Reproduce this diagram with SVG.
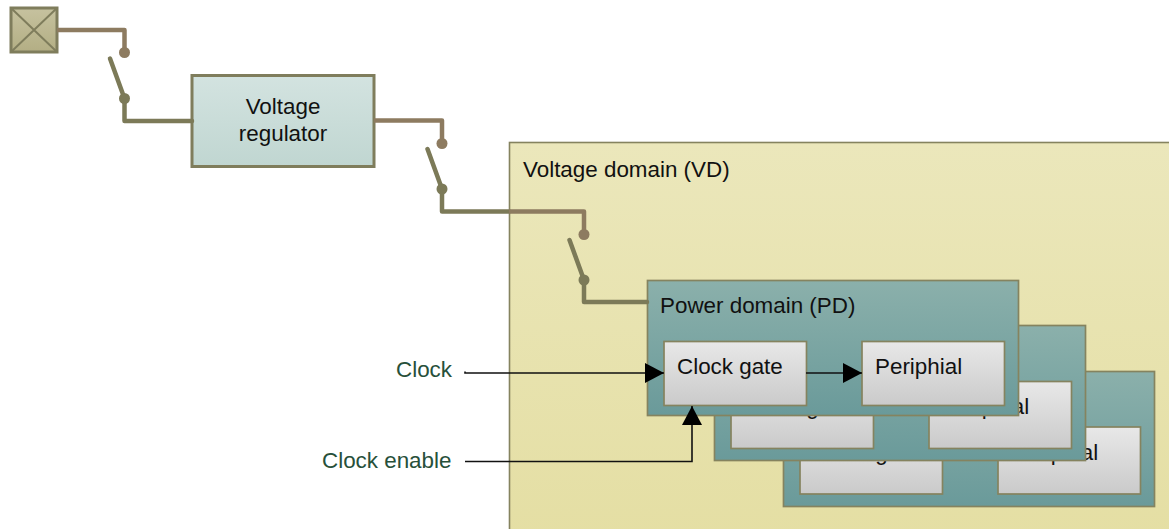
<svg xmlns="http://www.w3.org/2000/svg" width="1169" height="529" viewBox="0 0 1169 529">
<style>
text{font-family:"Liberation Sans",Arial,sans-serif;font-size:22.400px;fill:#111}
.lbl{fill:#27503a}
.pd{fill:url(#gPd);stroke:#85835f;stroke-width:1.700}
.box{fill:url(#gBox);stroke:#85835f;stroke-width:1.700}
.up{fill:none;stroke:#8d7b60;stroke-width:4.500;stroke-linejoin:round}
.dn{fill:none;stroke:#7c7a58;stroke-width:4.500;stroke-linejoin:round;stroke-linecap:round}
.dotU{fill:#8d7b60}.dotD{fill:#7c7a58}
.sig{fill:none;stroke:#111;stroke-width:1.600}
</style>
<defs>
<linearGradient id="gVd" x1="0" y1="0" x2="0" y2="1"><stop offset="0" stop-color="#ebe7bb"/><stop offset="1" stop-color="#e4dea2"/></linearGradient>
<linearGradient id="gPd" x1="0" y1="0" x2="0" y2="1"><stop offset="0" stop-color="#8bb0ab"/><stop offset="1" stop-color="#6a9a9a"/></linearGradient>
<linearGradient id="gBox" x1="0" y1="0" x2="0" y2="1"><stop offset="0" stop-color="#e8e8e8"/><stop offset="1" stop-color="#cacaca"/></linearGradient>
<linearGradient id="gReg" x1="0" y1="0" x2="0" y2="1"><stop offset="0" stop-color="#d3e3e0"/><stop offset="1" stop-color="#c0d6d1"/></linearGradient>
<linearGradient id="gPad" x1="0" y1="0" x2="0" y2="1"><stop offset="0" stop-color="#c6c29f"/><stop offset="1" stop-color="#b3ae84"/></linearGradient>
<marker id="arr" markerUnits="userSpaceOnUse" markerWidth="20" markerHeight="20" refX="19" refY="10" orient="auto"><path d="M0 0L19 10L0 20Z" fill="#000"/></marker>
</defs>

<g id="voltage-domain">
<rect x="509.500" y="142.500" width="700" height="420" fill="url(#gVd)" stroke="#85835f" stroke-width="1.600"/>
<text x="523" y="176.500">Voltage domain (VD)</text>
</g>

<g id="power-domain-3">
<rect class="pd" x="783.500" y="371.500" width="371" height="135"/>
<rect class="box" x="800" y="427" width="142.500" height="67"/><text x="813" y="459.500">Clock gate</text>
<rect class="box" x="998" y="427" width="142.500" height="67"/><text x="1011" y="459.500">Periphial</text>
</g>
<g id="power-domain-2">
<rect class="pd" x="714.500" y="325.500" width="371" height="135"/>
<rect class="box" x="731" y="381.500" width="142.500" height="67"/><text x="744" y="414">Clock gate</text>
<rect class="box" x="929" y="381.500" width="142.500" height="67"/><text x="942" y="414">Periphial</text>
</g>
<g id="power-domain-1">
<rect class="pd" x="647.500" y="280.500" width="371" height="135"/>
<text x="660" y="313">Power domain (PD)</text>
</g>
<g id="clock-gate"><rect class="box" x="664" y="341.500" width="142.500" height="64"/><text x="677" y="374">Clock gate</text></g>
<g id="periphial"><rect class="box" x="862" y="341.500" width="142.500" height="64"/><text x="875" y="374">Periphial</text></g>

<g id="pad">
<rect x="11" y="8" width="46" height="44" fill="url(#gPad)" stroke="#7f7d5c" stroke-width="3"/>
<path d="M11 8L57 52M57 8L11 52" stroke="#7f7d5c" stroke-width="2" fill="none"/>
</g>
<g id="voltage-regulator">
<rect x="192" y="75.500" width="182" height="91" fill="url(#gReg)" stroke="#7f7d5c" stroke-width="3"/>
<text x="283" y="114" text-anchor="middle">Voltage</text>
<text x="283" y="141" text-anchor="middle">regulator</text>
</g>
<g id="clock-label"><text class="lbl" x="396" y="377">Clock</text></g>
<g id="clock-enable-label"><text class="lbl" x="322" y="468">Clock enable</text></g>

<g id="connectors">
<path class="up" d="M57 30H124.500V52"/><circle class="dotU" cx="124.500" cy="52.500" r="5.500"/>
<path class="dn" d="M110 58.500L124.500 98.500V121H192"/><circle class="dotD" cx="124.500" cy="98.500" r="5.500"/>
<path class="up" d="M374 120.500H442V143"/><circle class="dotU" cx="442" cy="143.500" r="5.500"/>
<path class="dn" d="M427.500 149L442 189V211.500H509"/><circle class="dotD" cx="442" cy="189" r="5.500"/>
<path class="up" d="M509 211.500H584V234"/><circle class="dotU" cx="584" cy="234.500" r="5.500"/>
<path class="dn" d="M569.500 240L584 280V302H647"/><circle class="dotD" cx="584" cy="280" r="5.500"/>
<path class="sig" d="M465 371.500V373H664" marker-end="url(#arr)"/>
<path class="sig" d="M806 373H862" marker-end="url(#arr)"/>
<path class="sig" d="M465 461.500H692V406" marker-end="url(#arr)"/>
</g>
</svg>
